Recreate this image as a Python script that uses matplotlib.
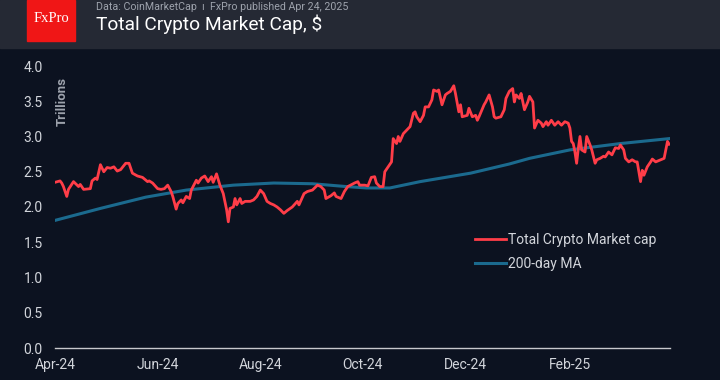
import pandas as pd
import matplotlib
matplotlib.use("Agg")
import matplotlib.pyplot as plt

plt.rcParams['font.family'] = ['Roboto', 'DejaVu Sans']

# --- data ---
start_date = "2024-04-24"

# total crypto market cap, trillions $ (day offset from start_date, value)
cap_days = [0, 3, 4, 5, 7, 8, 11, 14, 15, 17, 21, 22, 24, 25, 27, 29, 31, 33, 35, 37,
            39, 42, 44, 46, 49, 52, 55, 56, 58, 61, 63, 65, 67, 69, 70, 72, 73, 75, 76, 78,
            80, 81, 84, 85, 87, 89, 91, 93, 94, 96, 97, 98, 100, 102, 103, 104, 106, 107, 108, 110,
            111, 113, 116, 118, 120, 122, 124, 126, 128, 130, 132, 134, 136, 138, 141, 144, 145, 148, 150, 153,
            156, 158, 160, 161, 164, 166, 167, 170, 172, 174, 178, 180, 181, 184, 186, 188, 190, 191, 193, 195,
            196, 198, 200, 201, 203, 204, 205, 207, 209, 211, 213, 214, 215, 217, 219, 220, 222, 224, 225, 227,
            228, 230, 232, 233, 235, 237, 238, 240, 241, 242, 245, 246, 248, 250, 251, 252, 255, 256, 258, 260,
            261, 262, 265, 267, 268, 270, 272, 273, 274, 276, 277, 279, 281, 282, 284, 285, 287, 289, 290, 292,
            293, 295, 297, 299, 301, 303, 305, 306, 307, 308, 309, 310, 311, 312, 313, 315, 316, 318, 319, 321,
            322, 324, 326, 327, 329, 331, 333, 335, 336, 338, 339, 341, 343, 345, 346, 348, 349, 350, 352, 354,
            355, 357, 360, 362, 363, 364, 365]
cap_vals = [2.35, 2.37, 2.34, 2.29, 2.15, 2.25, 2.36, 2.29, 2.32, 2.25, 2.26, 2.37, 2.41, 2.39, 2.60, 2.50, 2.56, 2.55, 2.57, 2.51,
            2.53, 2.62, 2.62, 2.48, 2.44, 2.42, 2.36, 2.37, 2.34, 2.26, 2.25, 2.26, 2.31, 2.22, 2.15, 1.97, 2.05, 2.10, 2.06, 2.15,
            2.12, 2.24, 2.38, 2.34, 2.41, 2.44, 2.36, 2.43, 2.35, 2.47, 2.39, 2.31, 2.19, 1.96, 1.79, 1.98, 2.00, 2.12, 2.03, 2.12,
            2.05, 2.08, 2.08, 2.10, 2.15, 2.24, 2.19, 2.08, 2.05, 2.03, 2.00, 1.96, 1.91, 1.95, 2.00, 2.08, 2.03, 2.19, 2.22, 2.24,
            2.31, 2.29, 2.24, 2.12, 2.16, 2.20, 2.15, 2.12, 2.22, 2.29, 2.34, 2.36, 2.31, 2.31, 2.30, 2.42, 2.43, 2.34, 2.29, 2.29,
            2.50, 2.57, 2.64, 2.97, 2.90, 3.00, 2.93, 3.04, 3.09, 3.14, 3.33, 3.35, 3.28, 3.21, 3.30, 3.42, 3.42, 3.52, 3.66, 3.64,
            3.66, 3.45, 3.59, 3.61, 3.64, 3.72, 3.61, 3.35, 3.45, 3.28, 3.30, 3.40, 3.28, 3.30, 3.23, 3.28, 3.45, 3.49, 3.59, 3.42,
            3.28, 3.26, 3.28, 3.38, 3.54, 3.64, 3.68, 3.49, 3.59, 3.54, 3.61, 3.38, 3.49, 3.57, 3.49, 3.12, 3.23, 3.19, 3.14, 3.21,
            3.16, 3.23, 3.16, 3.21, 3.16, 3.21, 3.19, 3.12, 2.93, 2.90, 2.78, 2.62, 2.83, 3.00, 2.81, 2.78, 3.00, 2.88, 2.81, 2.62,
            2.67, 2.69, 2.72, 2.71, 2.78, 2.74, 2.84, 2.83, 2.88, 2.81, 2.69, 2.64, 2.67, 2.64, 2.64, 2.36, 2.52, 2.45, 2.57, 2.64,
            2.68, 2.64, 2.67, 2.69, 2.81, 2.93, 2.89]

# 200-day moving average
ma_days = [0, 27, 54, 78, 106, 130, 153, 173, 185, 199, 217, 247, 270, 282, 306, 336, 365]
ma_vals = [1.81, 1.98, 2.14, 2.24, 2.31, 2.34, 2.33, 2.29, 2.27, 2.27, 2.36, 2.48, 2.61, 2.69, 2.81, 2.90, 2.97]

tick_dates = ["2024-04-24", "2024-06-24", "2024-08-24", "2024-10-24", "2024-12-24", "2025-02-24"]
tick_labels = ["Apr-24", "Jun-24", "Aug-24", "Oct-24", "Dec-24", "Feb-25"]
y_ticks = [0.0, 0.5, 1.0, 1.5, 2.0, 2.5, 3.0, 3.5, 4.0]

t0 = pd.Timestamp(start_date)
cap_dates = t0 + pd.to_timedelta(cap_days, unit="D")
ma_dates = t0 + pd.to_timedelta(ma_days, unit="D")

# --- colours ---
bg = "#0c1220"
header = "#252934"
red = "#ff3d48"
blue = "#1b6a8e"
txt = "#d2d5db"
muted = "#9ea3ad"

fig = plt.figure(figsize=(7.2, 3.8), dpi=100, facecolor=bg)

# header band + logo
fig.patches.append(plt.Rectangle((0, 1 - 48 / 380), 1, 48 / 380, transform=fig.transFigure,
                                 color=header, zorder=0))
fig.patches.append(plt.Rectangle((27 / 720, 1 - 41 / 380), 48 / 720, 41 / 380, transform=fig.transFigure,
                                 color="#f01616", zorder=1))
fig.text(51 / 720, 1 - 19 / 380, "FxPro", family=["Liberation Serif", "DejaVu Serif"], color="white",
         fontsize=10.5, ha="center", va="center")
fig.text(96 / 720, 1 - 6.5 / 380, "Data: CoinMarketCap  ı  FxPro published Apr 24, 2025", color=muted,
         fontsize=7.7, ha="left", va="center")
fig.text(96 / 720, 1 - 24 / 380, "Total Crypto Market Cap, $", color="white",
         fontsize=13.8, ha="left", va="center")

ax = fig.add_axes([55 / 720, 32 / 380, 615 / 720, 282 / 380])
ax.set_facecolor(bg)

ax.plot(ma_dates, ma_vals, color=blue, lw=2.2, label="200-day MA", zorder=2)
ax.plot(cap_dates, cap_vals, color=red, lw=2.0, label="Total Crypto Market cap", zorder=3)

ax.set_ylim(0, 4.0)
ax.set_xlim(t0, t0 + pd.Timedelta(days=365.5))
ax.set_yticks(y_ticks)
ax.set_yticklabels([f"{v:.1f}" for v in y_ticks])
ax.set_xticks(pd.to_datetime(tick_dates))
ax.set_xticklabels(tick_labels)
ax.tick_params(axis="both", length=0, colors=txt, labelsize=10)
ax.tick_params(axis="y", pad=9)
ax.tick_params(axis="x", pad=7)

for s in ["top", "right", "left"]:
    ax.spines[s].set_visible(False)
ax.spines["bottom"].set_color("#c8c8cc")
ax.spines["bottom"].set_linewidth(1.0)

ax.text(0.002, 0.96, "Trillions", transform=ax.transAxes, rotation=90, color=muted,
        fontsize=9.5, fontweight="bold", ha="left", va="top")

# legend: red line first, as in the chart
h, l = ax.get_legend_handles_labels()
leg = ax.legend(h[::-1], l[::-1], loc="upper left", bbox_to_anchor=(0.683, 0.408), frameon=False,
                fontsize=10, handlelength=2.2, handletextpad=0.2, labelspacing=0.7,
                borderpad=0, borderaxespad=0)
for t in leg.get_texts():
    t.set_color(txt)

fig.savefig("out.png", dpi=100, facecolor=bg)
